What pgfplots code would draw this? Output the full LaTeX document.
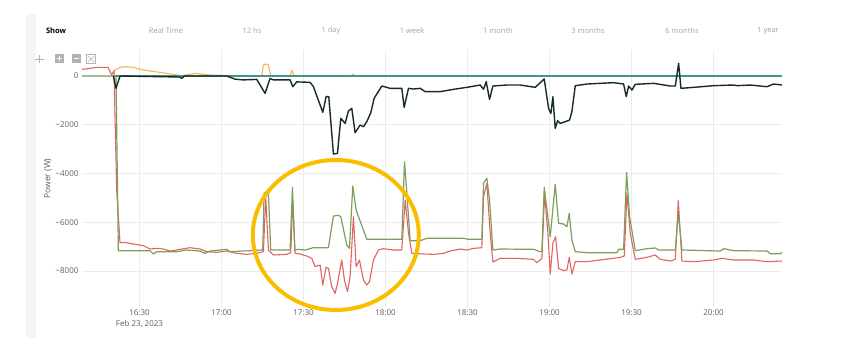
\documentclass[border=0pt]{standalone}
\usepackage{pgfplots}
\pgfplotsset{compat=1.18}
\usepackage{fontspec}
\setmainfont{Open Sans}
\definecolor{cred}{RGB}{228,98,98}
\definecolor{cgreen}{RGB}{122,160,92}
\definecolor{cdark}{RGB}{22,44,40}
\definecolor{cteal}{RGB}{64,150,140}
\definecolor{corange}{RGB}{246,182,82}
\definecolor{cgold}{RGB}{250,190,0}
\definecolor{gridc}{RGB}{236,236,236}
\definecolor{labc}{RGB}{95,95,95}
\definecolor{menuc}{RGB}{165,165,165}
\definecolor{stripc}{RGB}{245,245,245}
\definecolor{iconc}{RGB}{178,178,178}

\pgfplotstableread{
x y
20.44 0
21.41 -506
22.88 0
44.5 -40
45.45 -95
46.5 0
61.92 0
65 -130
68 -160
72.90 -140
75.95 -711
77.78 -100
79.0 -160
85.10 -160
86.08 -440
87.54 -240
92.42 -260
93.64 -438
97.06 -1491
98.28 -848
99.26 -848
100.96 -3201
102.43 -3174
103.65 -1737
105.23 -1943
106.45 -1437
107.67 -1327
108.89 -2326
110.72 -2011
111.94 -2080
113.16 -1874
114.63 -1505
115.85 -917
118.65 -411
121.70 -506
125.97 -506
126.83 -1286
128.42 -506
130.25 -534
132.69 -506
134.52 -643
140.01 -643
144.89 -547
149.77 -465
154.65 -370
155.87 -547
156.85 -233
158.07 -958
159.29 -411
164.41 -370
169.29 -370
174.78 -465
178.08 -123
179.66 -1327
180.52 -1532
181.25 -848
182.10 -2148
182.96 -1833
183.93 -1943
185.77 -1874
187.35 -1806
188.20 -1464
189.43 -397
193.70 -329
198.58 -301
203.46 -274
207.12 -329
208.09 -848
208.95 -411
210.17 -575
211.39 -342
218.10 -301
224.20 -411
226.03 -411
227.25 520
228.10 -506
232.74 -465
240.06 -397
247.38 -370
248.60 -397
253.48 -370
259.58 -438
262.02 -329
265.07 -370
}\darkdata

\pgfplotstableread{
x y
8.97 274
11 300
14.46 356
18.48 356
19.84 41
20.68 219
21.66 -4678
22.88 -6839
25.32 -6839
27.76 -6894
31.42 -6962
33.86 -7099
36.30 -7072
38.74 -7099
41.18 -7181
44.84 -7112
48.50 -7044
52.16 -7099
54.60 -7208
58.26 -7236
61.92 -7181
65.58 -7277
69.24 -7318
72.90 -7277
75.34 -7208
76.19 -4951
77.17 -7140
79.0 -7345
83.88 -7318
85.35 -7249
86.08 -5088
86.93 -7277
88.76 -7304
91.20 -7386
93.03 -7482
94.25 -7824
96.08 -7756
97.06 -8576
98.28 -7851
99.13 -7892
100.35 -8645
101.57 -8918
102.43 -8508
104.01 -7550
104.99 -8371
106.09 -8850
107.06 -8234
108.28 -5772
109.26 -7824
110.48 -7550
111.94 -8371
113.16 -8576
114.14 -8440
115.60 -7550
117.43 -7140
119.26 -7085
122.92 -7140
125.97 -7140
127.20 -5088
128.42 -6456
129.64 -7277
133.91 -7304
137.57 -7318
141.23 -7277
143.67 -7181
147.33 -7099
149.77 -7140
152.21 -7072
155.26 -7044
155.87 -4951
157.09 -4404
158.31 -6456
159.29 -7632
161.97 -7482
168.07 -7482
174.17 -7523
175.39 -7660
177.22 -7482
178.20 -4814
179.42 -6456
180.27 -8125
181.25 -6866
182.23 -6593
183.33 -7892
185.15 -7988
186.38 -7960
187.23 -7441
188.21 -8125
189.43 -7619
193.70 -7619
198.58 -7550
205.90 -7441
207.36 -7386
208.34 -4814
209.56 -6456
211.39 -7523
215.66 -7441
218.71 -7345
220.54 -7523
224.20 -7591
226.03 -7523
227.13 -5115
228.47 -7591
232.74 -7619
240.06 -7550
243.11 -7482
247.38 -7550
254.70 -7550
259.58 -7619
265.07 -7591
}\reddata

\pgfplotstableread{
x y
8.97 0
21.41 0
22.27 -7167
33.86 -7167
35.08 -7304
36.30 -7208
43.62 -7208
47.28 -7140
52.16 -7181
53.99 -7277
55.82 -7181
61.92 -7112
63.14 -7208
75.10 -7140
75.59 -4814
76.56 -4746
77.17 -4814
78.02 -7140
85.10 -7140
85.96 -4568
86.81 -7140
88.15 -7112
90.59 -7140
93.64 -7044
99.13 -7044
100.96 -5745
102.79 -5717
103.65 -5772
105.84 -6935
106.82 -7072
108.04 -4513
109.26 -5498
113.16 -6702
125.97 -6702
126.95 -3515
127.56 -4404
129.02 -6757
132.69 -6757
135.13 -6661
148.55 -6661
150.38 -6702
155.26 -6702
155.87 -4404
157.09 -4199
158.07 -5088
159.29 -7140
161.97 -7099
174.17 -7112
176.61 -7208
177.22 -7208
178.08 -4568
180.27 -6593
182.10 -4445
183.33 -6046
185.15 -6073
186.38 -6182
187.23 -5635
188.21 -6730
189.43 -7208
193.70 -7249
204.68 -7249
205.29 -7112
207.12 -7112
208.21 -3953
209.31 -5772
211.39 -7167
215.66 -7085
218.71 -7058
219.93 -7140
226.03 -7140
227.13 -5635
228.47 -7140
242.50 -7181
243.72 -7085
247.38 -7167
259.58 -7181
260.80 -7290
264.46 -7290
265.07 -7236
}\greendata

\pgfplotstableread{
x y
20.9 200
21.05 246
22.88 356
25.32 383
27.76 356
30.20 273
33.86 205
37.52 150
39.96 109
43.62 41
45.45 0
47.28 55
50.94 109
53.38 68
55.82 41
60.70 27
61.92 0
74.73 0
75.34 451
76.56 492
77.17 451
78.02 0
85.10 0
85.83 246
86.57 0
107.30 0
108.04 82
108.77 0
110 0
}\orangedata

\begin{document}
\begin{tikzpicture}[x=1pt,y=1pt]
\fill[white] (0,0) rectangle (843,356);
\path[use as bounding box] (0,0) rectangle (843,356);
\fill[stripc] (26,18) rectangle (35.5,342);
% menu
\begin{scope}[every node/.style={font=\fontsize{7.5}{9}\selectfont, text=menuc, inner sep=0pt}]
\node[text=black, font=\fontsize{7.5}{9}\selectfont\bfseries] at (56,325) {Show};
\node at (166,325) {Real Time};
\node at (252,325) {12 hs};
\node at (331,325) {1 day};
\node at (412,325) {1 week};
\node at (498,325) {1 month};
\node at (588,325) {3 months};
\node at (682,325) {6 months};
\node at (768,325) {1 year};
\end{scope}
% modebar icons
\draw[iconc, line width=0.9pt] (35,297) -- (43.6,297) (39.3,292.7) -- (39.3,301.3);
\fill[iconc] (54.8,292.5) rectangle (63.8,301.5);
\draw[white, line width=1pt] (56.8,297) -- (61.8,297) (59.3,294.5) -- (59.3,299.5);
\fill[iconc] (71.5,292.5) rectangle (80.5,301.5);
\draw[white, line width=1pt] (73.5,297) -- (78.5,297);
\draw[iconc, line width=0.6pt] (86.5,292.5) rectangle (95.5,301.5);
\draw[iconc, line width=0.6pt] (88,294) -- (94,300) (88,300) -- (94,294);

\begin{axis}[
  at={(82pt,49pt)}, anchor=south west,
  scale only axis, width=700pt, height=257pt,
  xmin=8.97, xmax=265.07, ymin=-9478, ymax=1067,
  axis line style={draw=none},
  major tick length=0pt,
  grid=major, grid style={gridc, line width=0.8pt},
  xtick={30,60,90,120,150,180,210,240},
  xticklabels={{16:30\\Feb 23, 2023},17:00,17:30,18:00,18:30,19:00,19:30,20:00},
  ytick={-8000,-6000,-4000,-2000,0},
  yticklabels={−8000,−6000,−4000,−2000,0},
  tick label style={font=\fontsize{8}{11.5}\selectfont, text=labc},
  xticklabel style={align=center, anchor=north, yshift=1pt},
  yticklabel style={anchor=east, xshift=0pt},
  ylabel={Power (W)},
  ylabel style={at={(axis description cs:-0.0486,0.5)}, anchor=center, font=\fontsize{8.5}{10}\selectfont, text=labc},
  every axis plot/.append style={line join=round},
  clip=false,
]
\addplot[corange, line width=1.1pt] table {\orangedata};
\addplot[cteal, line width=1.3pt] coordinates {(20.4,0) (265.07,0)};
\addplot[cred, line width=1.1pt] table {\reddata};
\addplot[cgreen, line width=1.2pt] table {\greendata};
\addplot[cdark, line width=1.4pt] table {\darkdata};
\end{axis}
\draw[cgold, line width=4pt] (335.8,121) ellipse [x radius=83, y radius=75];
\end{tikzpicture}
\end{document}
